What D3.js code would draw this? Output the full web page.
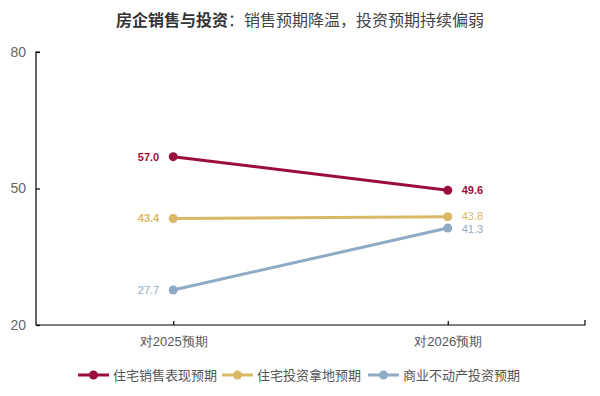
<!DOCTYPE html>
<html><head><meta charset="utf-8">
<script src="https://cdn.jsdelivr.net/npm/d3@7/dist/d3.min.js"></script>
<style>body{margin:0;background:#fff;}svg{display:block;font-family:"Noto Sans CJK SC","Noto Sans",sans-serif;}</style>
</head><body><svg id="c" width="600" height="396"></svg>
<script>
const categories = ["对2025预期", "对2026预期"];
const seriesNames = ["住宅销售表现预期", "住宅投资拿地预期", "商业不动产投资预期"];
const salesValues = [57.0, 49.6];
const landValues = [43.4, 43.8];
const commercialValues = [27.7, 41.3];
const yTicks = [20, 50, 80];
const colors = ["#9b0d3c", "#d9b866", "#8eaac4"];
const labelWeights = [["bold","bold"],["bold","normal"],["normal","normal"]];

const series = [salesValues, landValues, commercialValues].map((v,i)=>({name:seriesNames[i], values:v, color:colors[i], weights:labelWeights[i]}));

const svg = d3.select("#c");
const x = d3.scalePoint().domain(categories).range([36, 585]).padding(0.5);
const y = d3.scaleLinear().domain([20, 80]).range([325, 52]);

// title
const t = svg.append("text").attr("x", 300).attr("y", 26).attr("text-anchor","middle").attr("font-size",16).attr("fill","#444");
t.append("tspan").attr("font-weight","bold").attr("fill","#333").text("房企销售与投资");
t.append("tspan").text("：销售预期降温，投资预期持续偏弱");

// axes
const yAxis = svg.append("g").attr("transform","translate(36,0)")
  .call(d3.axisRight(y).tickValues(yTicks).tickSize(4).tickFormat(d3.format("d")));
yAxis.select(".domain").attr("stroke","#000").attr("stroke-width",1.2).attr("d","M4,52H0V325");
yAxis.selectAll(".tick line").attr("stroke","#000").attr("stroke-width",1.2);
yAxis.selectAll(".tick text").attr("x",-10).attr("text-anchor","end").attr("font-size",14).attr("fill","#666").attr("font-family","Liberation Sans, sans-serif");

const xAxis = svg.append("g").attr("transform","translate(0,325)")
  .call(d3.axisBottom(x).tickSize(-4));
xAxis.select(".domain").attr("stroke","#000").attr("stroke-width",1.2).attr("d","M36,0H585V-5");
xAxis.selectAll(".tick line").attr("stroke","#000").attr("stroke-width",1.2);
xAxis.selectAll(".tick text").attr("y",12).attr("dy","0.71em").attr("font-size",13).attr("fill","#555");

// label positions with simple collision separation per category
const labelY = categories.map((c,ci)=>{
  const items = series.map((s,si)=>({si, y:y(s.values[ci])})).sort((a,b)=>a.y-b.y);
  for (let k=1;k<items.length;k++){
    const gap = items[k].y - items[k-1].y;
    if (gap < 13){ const d=(13-gap)/2; items[k-1].y -= d; items[k].y += d; }
  }
  const out = []; items.forEach(it=>out[it.si]=it.y); return out;
});

// lines
const line = d3.line().x((d,i)=>x(categories[i])).y(d=>y(d));
series.forEach((s,si)=>{
  svg.append("path").attr("d", line(s.values)).attr("fill","none").attr("stroke",s.color).attr("stroke-width",3);
  svg.selectAll(null).data(s.values).enter().append("circle")
    .attr("cx",(d,i)=>x(categories[i])).attr("cy",d=>y(d)).attr("r",4.5).attr("fill",s.color);
  svg.selectAll(null).data(s.values).enter().append("text")
    .attr("x",(d,i)=>i===0 ? x(categories[i])-14 : x(categories[i])+14)
    .attr("y",(d,i)=>labelY[i][si]).attr("dy","0.35em")
    .attr("text-anchor",(d,i)=>i===0?"end":"start")
    .attr("font-family","Liberation Sans, Noto Sans, sans-serif")
    .attr("font-size",11).attr("font-weight",(d,i)=>s.weights[i]).attr("fill",s.color)
    .text(d=>d.toFixed(1));
});

// legend
const legendX = [78, 222, 368];
series.forEach((s,i)=>{
  const g = svg.append("g").attr("transform",`translate(${legendX[i]},375)`);
  g.append("line").attr("x1",0).attr("x2",31).attr("y1",0).attr("y2",0).attr("stroke",s.color).attr("stroke-width",3);
  g.append("circle").attr("cx",15.5).attr("cy",0).attr("r",4.5).attr("fill",s.color);
  g.append("text").attr("x",35).attr("y",0).attr("dy","0.35em").attr("font-size",13).attr("fill","#555").text(s.name);
});
</script></body></html>
